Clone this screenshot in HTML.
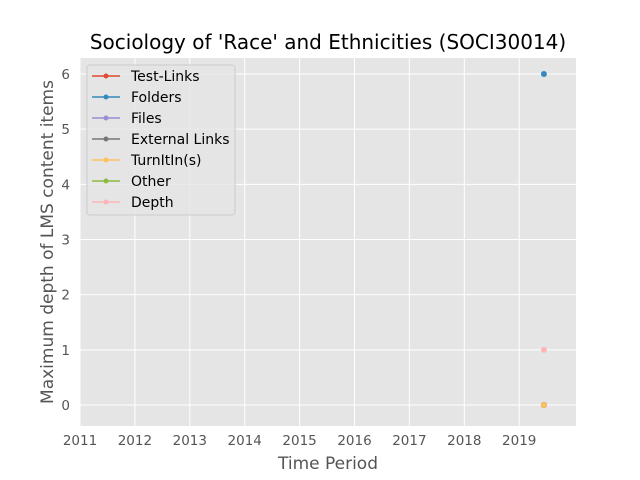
<!DOCTYPE html>
<html><head><meta charset="utf-8"><style>
body{margin:0;background:#fff;}
svg{display:block;font-family:"DejaVu Sans","Liberation Sans",sans-serif;}
</style></head><body>
<svg id="chart" width="640" height="480">
<rect x="0" y="0" width="640" height="480" fill="#fff"/>
<rect x="80" y="58" width="496" height="368" fill="#E5E5E5"/>
<g id="grid"></g><g id="ticks"></g><g id="marks"></g>
<text x="328" y="49" text-anchor="middle" font-size="20" fill="#000">Sociology of 'Race' and Ethnicities (SOCI30014)</text>
<text x="328" y="469" text-anchor="middle" font-size="17" fill="#555">Time Period</text>
<text transform="translate(53,242) rotate(-90)" text-anchor="middle" font-size="17" fill="#555">Maximum depth of LMS content items</text>
<g id="legend"></g>
</svg>
<script>
const years=[2019.45];
const seriesNames=["Test-Links","Folders","Files","External Links","TurnItIn(s)","Other","Depth"];
const seriesColors=["#E24A33","#348ABD","#988ED5","#777777","#FBC15E","#8EBA42","#FFB5B8"];
const testLinks=[0];
const folders=[6];
const files=[0];
const externalLinks=[0];
const turnitin=[0];
const other=[null];
const depth=[1];
const xTicks=[2011,2012,2013,2014,2015,2016,2017,2018,2019];
const yTicks=[0,1,2,3,4,5,6];
const allSeries=[testLinks,folders,files,externalLinks,turnitin,other,depth];
const NS="http://www.w3.org/2000/svg";
const X=v=>80+(v-2011)*54.9;
const Y=v=>405-v*55.17;
function mk(tag,attrs,parent){const e=document.createElementNS(NS,tag);for(const k in attrs)e.setAttribute(k,attrs[k]);parent.appendChild(e);return e;}
const grid=document.getElementById('grid'),ticks=document.getElementById('ticks'),marks=document.getElementById('marks'),legend=document.getElementById('legend');
xTicks.forEach(t=>{
 const l=mk('line',{x1:X(t),x2:X(t),y1:58,y2:426,stroke:'#fff','stroke-width':1},grid);
 
 
 const tx=mk('text',{x:X(t),y:445,'text-anchor':'middle','font-size':13.5,fill:'#555'},ticks);
 tx.textContent=t;
 
 
});
yTicks.forEach(t=>{
 const l=mk('line',{x1:80,x2:576,y1:Y(t),y2:Y(t),stroke:'#fff','stroke-width':1},grid);
 
 
 const tx=mk('text',{x:70,y:Y(t)+5,'text-anchor':'end','font-size':13.5,fill:'#555'},ticks);
 tx.textContent=t;
 
 
});
allSeries.forEach((s,i)=>{
 s.forEach((v,j)=>{
  if(v===null)return;
  const c=mk('circle',{cx:X(years[j]),cy:Y(v),r:3,fill:seriesColors[i]},marks);
  
  
 });
});
const lb=mk('rect',{x:87,y:65,width:148,height:150,rx:3,fill:'#E5E5E5',stroke:'#ccc','fill-opacity':0.8},legend);


seriesNames.forEach((n,i)=>{
 const y=76+i*21;
 const g=mk('g',{},legend);
 
 
 mk('line',{x1:92,x2:120,y1:y,y2:y,stroke:seriesColors[i],'stroke-width':1.6},g);
 mk('circle',{cx:106,cy:y,r:2.5,fill:seriesColors[i]},g);
 const t=mk('text',{x:131,y:y+5,'font-size':14,fill:'#000'},g);
 t.textContent=n;
});
</script>
</body></html>
